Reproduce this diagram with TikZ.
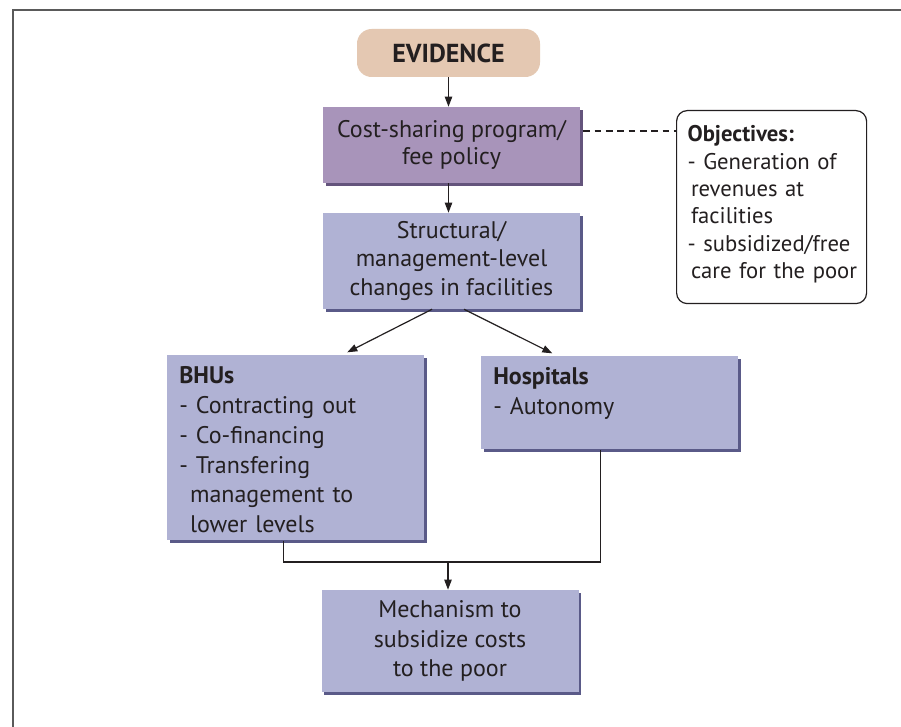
\documentclass[tikz,border=0pt]{standalone}
\usepackage{fontspec}
\setmainfont{PT Sans}
\usepackage{xcolor}
\usetikzlibrary{arrows.meta,shadows}
\definecolor{evidtan}{RGB}{228,200,178}
\definecolor{costpurple}{RGB}{168,148,186}
\definecolor{costshade}{RGB}{100,84,124}
\definecolor{boxblue}{RGB}{176,178,212}
\definecolor{boxshade}{RGB}{90,90,136}
\definecolor{ink}{RGB}{35,31,32}
\definecolor{framegray}{RGB}{90,90,90}
\newcommand{\txt}{\fontsize{18}{20.6}\selectfont}
\newcommand{\txtwide}{\fontsize{18}{22.3}\selectfont}
\newcommand{\txtobj}{\fontsize{17}{20.5}\selectfont\hyphenpenalty=10000}
\newcommand{\ind}{\hspace*{0.45em}}
\tikzset{
  flowbox/.style={fill=boxblue, text=ink, font=\txt, align=center,
    minimum width=192.75pt, inner sep=0pt,
    drop shadow={shadow xshift=2.2pt, shadow yshift=-2.2pt, fill=boxshade, opacity=1}},
  listbox/.style={flowbox, font=\txtwide, anchor=north west, align=left,
    text width=174.75pt, inner xsep=9pt, inner ysep=7.5pt, text height=14pt},
  arr/.style={-{Triangle[length=7.5pt,width=5.5pt]}, line width=0.9pt, draw=ink},
  link/.style={line width=0.9pt, draw=ink}
}
\begin{document}
\begin{tikzpicture}[x=0.75pt,y=-0.75pt]
\useasboundingbox (0,0) rectangle (901,727);
\fill[white] (0,0) rectangle (901,727);
\draw[framegray, line width=1.8pt] (13,727) -- (13,10) -- (901,10);

\node[fill=evidtan, rounded corners=11pt, minimum width=137.25pt, minimum height=36pt,
  text=ink, font=\fontsize{19.5}{22}\selectfont\bfseries] (evid) at (448.5,53) {EVIDENCE};

\node[flowbox, fill=costpurple, minimum height=57pt,
  drop shadow={shadow xshift=2.2pt, shadow yshift=-2.2pt, fill=costshade, opacity=1}]
  (cost) at (451.5,145) {Cost-sharing program/\\fee policy};

\node[flowbox, minimum height=72pt, font=\fontsize{18}{21.4}\selectfont] (struct) at (451.5,261)
  {Structural/\\management-level\\changes in facilities};

\node[draw=ink, line width=0.9pt, fill=white, rounded corners=8pt, anchor=north west,
  text=ink, font=\txtobj, align=left, text width=126pt, inner xsep=8.25pt, inner ysep=7.5pt,
  text height=16pt, text depth=113.75pt] (obj) at (676,110)
  {\textbf{Objectives:}\\- Generation of\\\hspace*{0.15em}revenues at\\\hspace*{0.15em}facilities\\\mbox{- subsidized/free}\\\mbox{\hspace*{0.15em}care for the poor}};

\node[listbox, text depth=109.75pt] (bhu) at (167,355)
  {\textbf{BHUs}\\- Contracting out\\- Co-financing\\- Transfering\\\ind management to\\\ind lower levels};

\node[listbox, text depth=40.75pt] (hosp) at (481,356)
  {\textbf{Hospitals}\\- Autonomy};

\node[flowbox, minimum height=76.5pt, font=\txtwide] (mech) at (450,641)
  {Mechanism to\\subsidize costs\\to the poor};

%arrows
\draw[arr] (evid) -- (evid |- cost.north);
\draw[arr] (evid |- cost.south) -- (evid |- struct.north);
\draw[link, dash pattern=on 5pt off 3.5pt] ([xshift=2.2pt,yshift=10.5pt]cost.east)
  -- ([yshift=10.5pt]cost.east -| obj.west);
\draw[arr] ([xshift=-14.6pt]struct.south) -- ([xshift=38.6pt,yshift=2pt]bhu.north);
\draw[arr] ([xshift=9.4pt]struct.south) -- ([xshift=-43.1pt,yshift=2pt]hosp.north);

\coordinate (join) at (448,562);
\draw[link] ([xshift=-9.4pt]bhu.south) |- (join) -| ([xshift=-7.1pt]hosp.south);
\draw[arr] (join) -- (join |- mech.north);

\end{tikzpicture}
\end{document}
